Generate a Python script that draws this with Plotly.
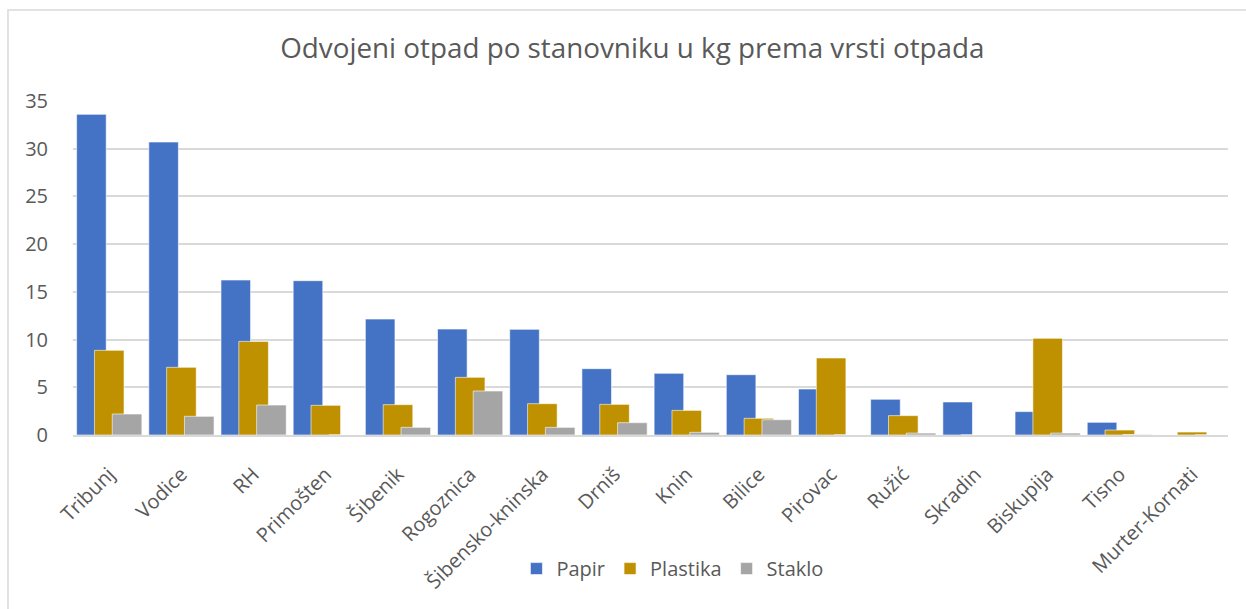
import plotly.graph_objects as go

categories = ["Tribunj", "Vodice", "RH", "Primošten", "Šibenik", "Rogoznica",
              "Šibensko-kninska", "Drniš", "Knin", "Bilice", "Pirovac", "Ružić",
              "Skradin", "Biskupija", "Tisno", "Murter-Kornati"]
papir = [33.6, 30.7, 16.24, 16.17, 12.15, 11.1, 11.07, 6.95, 6.46, 6.32, 4.82, 3.74, 3.46, 2.45, 1.33, 0.0]
plastika = [8.87, 7.09, 9.81, 3.11, 3.18, 6.04, 3.28, 3.21, 2.58, 1.75, 8.07, 2.03, 0.0, 10.13, 0.52, 0.31]
staklo = [2.2, 1.96, 3.14, 0.0, 0.8, 4.61, 0.8, 1.29, 0.28, 1.6, 0.0, 0.2, 0.0, 0.2, 0.05, 0.0]
y_ticks = [0, 5, 10, 15, 20, 25, 30, 35]

series = [("Papir", papir, "#4472C4", -0.45),
          ("Plastika", plastika, "#BF9000", -0.203),
          ("Staklo", staklo, "#A5A5A5", 0.044)]

fig = go.Figure()
for name, vals, color, off in series:
    fig.add_trace(go.Bar(
        x=categories, y=vals, name=name,
        marker=dict(color=color, line=dict(color="white", width=0.6)),
        width=0.41, offset=off,
    ))

font_family = "Open Sans"
fig.update_layout(
    width=1246, height=609,
    margin=dict(l=73, r=18, t=101, b=174),
    barmode="overlay",
    plot_bgcolor="white", paper_bgcolor="white",
    title=dict(text="Odvojeni otpad po stanovniku u kg prema vrsti otpada",
               x=0.5075, xanchor="center", y=0.92, yanchor="middle",
               font=dict(family=font_family, size=27.8, color="#595959")),
    font=dict(family=font_family, color="#595959"),
    legend=dict(orientation="h", x=0.519, xanchor="center", y=-0.4, yanchor="middle",
                font=dict(family=font_family, size=20, color="#595959"),
                itemwidth=30, traceorder="normal"),
    xaxis=dict(tickangle=-45, tickfont=dict(size=20, color="#595959"),
               showline=True, linecolor="#D9D9D9", linewidth=1.5,
               showgrid=False, ticks="", range=[-0.5, len(categories) - 0.5],
               ticklabelstandoff=18),
    yaxis=dict(range=[0, 35], tickvals=y_ticks, tickfont=dict(size=20, color="#595959"),
               showgrid=True, gridcolor="#D9D9D9", gridwidth=1.5,
               zeroline=False, showline=False, ticks="", ticklabelstandoff=24),
    shapes=[dict(type="rect", xref="paper", yref="paper",
                 x0=-0.0563, y0=-1.0, x1=1.2, y1=1.2725,
                 line=dict(color="#D9D9D9", width=1.5), fillcolor="rgba(0,0,0,0)", layer="below")],
)

fig.write_html("out.html", config={"displayModeBar": False},
               post_script="document.body.style.margin='0';")
